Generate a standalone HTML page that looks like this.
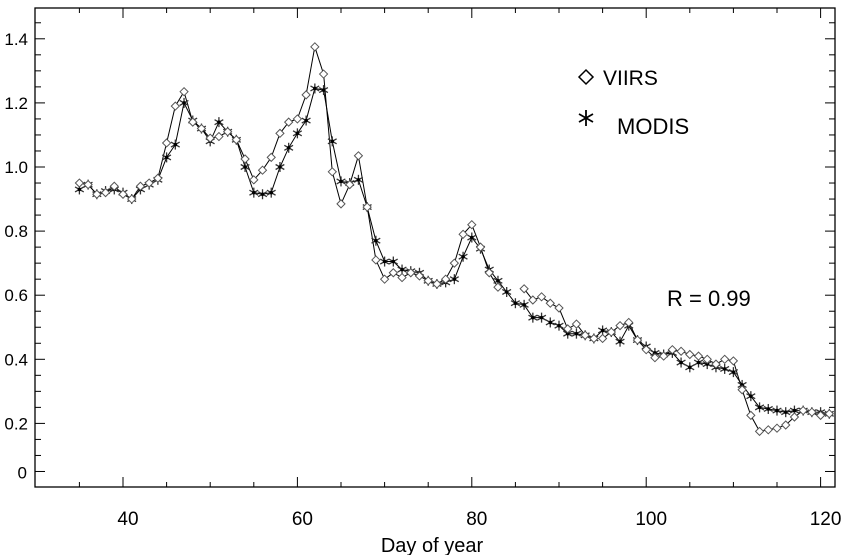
<!DOCTYPE html>
<html><head><meta charset="utf-8"><style>
html,body{margin:0;padding:0;background:#fff;}
svg{display:block;font-family:"Liberation Sans",sans-serif;}
</style></head><body>
<svg id="chart" width="844" height="555" viewBox="0 0 844 555" xmlns="http://www.w3.org/2000/svg">
<rect x="0" y="0" width="844" height="555" fill="#fff"/>
<g id="axes"></g>
<g id="series"></g>
<g>
<path d="M579 77 L586 70 L593 77 L586 84 Z" fill="none" stroke="#000" stroke-width="1.5"/>
<text x="603" y="85" font-size="21">VIIRS</text>
<g stroke="#000" stroke-width="1.8">
<line x1="586" y1="110" x2="586" y2="126"/><line x1="579" y1="114" x2="593" y2="122"/><line x1="579" y1="122" x2="593" y2="114"/></g>
<text x="617" y="134" font-size="22">MODIS</text>
</g>
<text x="667" y="306" font-size="22">R = 0.99</text>
<text x="432" y="552" font-size="20" text-anchor="middle">Day of year</text>
</svg>
<script>
const days = [35,36,37,38,39,40,41,42,43,44,45,46,47,48,49,50,51,52,53,54,55,56,57,58,59,60,61,62,63,64,65,66,67,68,69,70,71,72,73,74,75,76,77,78,79,80,81,82,83,84,85,86,87,88,89,90,91,92,93,94,95,96,97,98,99,100,101,102,103,104,105,106,107,108,109,110,111,112,113,114,115,116,117,118,119,120,121];
const viirs = [0.95,0.945,0.915,0.92,0.94,0.915,0.90,0.94,0.95,0.965,1.075,1.19,1.235,1.14,1.12,1.09,1.095,1.11,1.085,1.025,0.96,0.99,1.03,1.105,1.14,1.15,1.225,1.375,1.29,0.985,0.885,0.945,1.035,0.875,0.71,0.65,0.67,0.655,0.67,0.66,0.645,0.635,0.65,0.70,0.79,0.82,0.75,0.67,0.625,null,null,0.62,0.585,0.595,0.575,0.56,0.495,0.51,0.475,0.465,0.465,0.485,0.505,0.515,0.46,0.43,0.405,0.41,0.43,0.425,0.415,0.41,0.40,0.385,0.40,0.395,0.305,0.225,0.175,0.18,0.185,0.195,0.22,0.24,0.235,0.225,0.23];
const modis = [0.93,0.945,0.915,0.925,0.93,0.92,0.90,0.93,0.945,0.96,1.03,1.07,1.20,1.145,1.12,1.08,1.14,1.11,1.085,1.0,0.92,0.915,0.92,1.0,1.06,1.105,1.145,1.245,1.24,1.08,0.955,0.95,0.96,0.875,0.77,0.705,0.705,0.68,0.675,0.67,0.645,0.635,0.64,0.65,0.72,0.78,0.745,0.68,0.645,0.61,0.575,0.57,0.53,0.53,0.515,0.505,0.48,0.48,0.475,0.465,0.49,0.485,0.455,0.505,0.46,0.44,0.42,0.415,0.42,0.39,0.375,0.39,0.385,0.375,0.37,0.36,0.32,0.285,0.25,0.245,0.24,0.235,0.24,0.24,0.235,0.235,0.23];
const xTicks = [40,60,80,100,120];
const yTicks = [0.2,0.4,0.6,0.8,1.0,1.2,1.4];
const yTickLabels = ["0.2","0.4","0.6","0.8","1.0","1.2","1.4"];

const NS="http://www.w3.org/2000/svg";
const L=35,R=835,T=8,B=487;
function xs(d){return 123+(d-40)*8.72;}
function ys(v){return 487.5-320.5*v;}
function mk(tag,attrs,parent){const e=document.createElementNS(NS,tag);for(const k in attrs)e.setAttribute(k,attrs[k]);parent.appendChild(e);return e;}
const ax=document.getElementById('axes');
const frame=mk('rect',{x:L,y:T,width:R-L,height:B-T,fill:'none',stroke:'#000','stroke-width':1.3},ax);


for(let d=35;d<=120;d+=5){
  const major=d%20===0, len=major?10:5, x=xs(d);
  const t1=mk('line',{x1:x,x2:x,y1:B,y2:B-len,stroke:'#000','stroke-width':1},ax);
  
  
  const t2=mk('line',{x1:x,x2:x,y1:T,y2:T+len,stroke:'#000','stroke-width':1},ax);
  
  
}
xTicks.forEach(d=>{
  const t=mk('text',{x:xs(d)+5,y:525,'font-size':19,'text-anchor':'middle'},ax);t.textContent=d;
  
  
});
for(let i=1;i<=29;i++){
  const v=i*0.05, y=ys(v), major=(i%4===0)||i===1, len=major?10:6;
  const t1=mk('line',{x1:L,x2:L+len,y1:y,y2:y,stroke:'#000','stroke-width':1},ax);
  
  
  const t2=mk('line',{x1:R,x2:R-len,y1:y,y2:y,stroke:'#000','stroke-width':1},ax);
  
  
}
yTicks.forEach((v,i)=>{
  const t=mk('text',{x:28,y:ys(v)+6,'font-size':17,'text-anchor':'end'},ax);t.textContent=yTickLabels[i];
  
  
});
const z=mk('text',{x:27,y:ys(0.05)+7,'font-size':17,'text-anchor':'end'},ax);z.textContent='0';



const sg=document.getElementById('series');
function drawLine(vals,name){
  let d='',pen=false;
  vals.forEach((v,i)=>{
    if(v===null){pen=false;return;}
    d+=(pen?'L':'M')+xs(days[i]).toFixed(1)+' '+ys(v).toFixed(1)+' ';pen=true;
  });
  const p=mk('path',{d:d,fill:'none',stroke:'#000','stroke-width':1},sg);
  
  
}
drawLine(viirs,'viirs-line');
drawLine(modis,'modis-line');
modis.forEach((v,i)=>{
  if(v===null)return;
  const x=xs(days[i]),y=ys(v),r=5;
  const g=mk('g',{stroke:'#333','stroke-width':1.3},sg);
  
  
  mk('line',{x1:x,y1:y-r,x2:x,y2:y+r},g);
  mk('line',{x1:x-r*0.87,y1:y-r*0.5,x2:x+r*0.87,y2:y+r*0.5},g);
  mk('line',{x1:x-r*0.87,y1:y+r*0.5,x2:x+r*0.87,y2:y-r*0.5},g);
  mk('circle',{cx:x,cy:y,r:1.8,fill:'#000',stroke:'none'},g);
});
viirs.forEach((v,i)=>{
  if(v===null)return;
  const x=xs(days[i]),y=ys(v),r=4;
  const p=mk('path',{d:`M${x-r} ${y} L${x} ${y-r} L${x+r} ${y} L${x} ${y+r} Z`,fill:'#fff',stroke:'#555','stroke-width':1},sg);
  
  
});
</script>
</body></html>
